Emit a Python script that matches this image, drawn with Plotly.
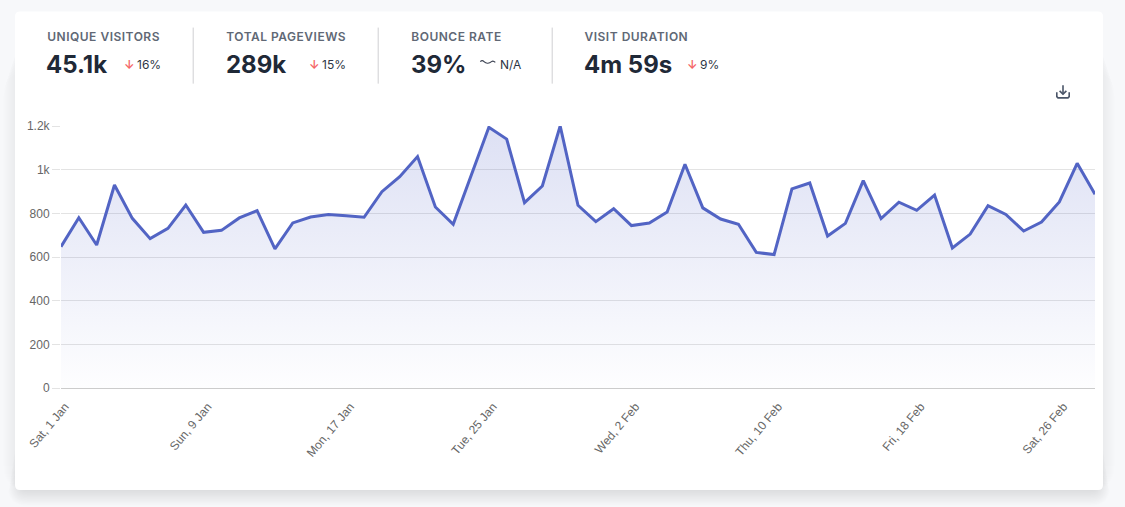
import pandas as pd
import plotly.graph_objects as go

visitors = [647, 780, 655, 930, 777, 684, 731, 838, 713, 722, 779, 812, 637, 756, 783,
            795, 789, 782, 899, 968, 1060, 829, 750, 972, 1194, 1140, 849, 925, 1200, 837,
            762, 821, 744, 756, 806, 1025, 825, 774, 750, 621, 611, 912, 939, 696, 754,
            950, 776, 851, 814, 884, 641, 705, 835, 795, 719, 760, 852, 1029, 887]
days = pd.date_range("2022-01-01", periods=len(visitors), freq="D")

tick_dates = ["2022-01-01", "2022-01-09", "2022-01-17", "2022-01-25",
              "2022-02-02", "2022-02-10", "2022-02-18", "2022-02-26"]
tick_labels = ["Sat, 1 Jan", "Sun, 9 Jan", "Mon, 17 Jan", "Tue, 25 Jan",
               "Wed, 2 Feb", "Thu, 10 Feb", "Fri, 18 Feb", "Sat, 26 Feb"]
y_ticks = [0, 200, 400, 600, 800, 1000, 1200]
y_labels = ["0", "200", "400", "600", "800", "1k", "1.2k"]

stat_names = ["UNIQUE VISITORS", "TOTAL PAGEVIEWS", "BOUNCE RATE", "VISIT DURATION"]
stat_values = ["45.1k", "289k", "39%", "4m 59s"]
stat_changes = ["16%", "15%", "N/A", "9%"]

W, H = 1125, 507
L, R, T, B = 61, 1095, 126.3, 388

INK = "#1f2937"
MUTED = "#606875"
RED = "#f56565"
GREY = "#666666"
FONT = "Inter"
TRACKING = 0.5


# pixel position on the page -> paper coordinates of the plot area
def px(x):
    return (x - L) / (R - L)


def py(y):
    return (B - y) / (B - T)


def round_rect(x0, y0, x1, y1, r):
    return (f"M{px(x0 + r)},{py(y0)} L{px(x1 - r)},{py(y0)} Q{px(x1)},{py(y0)} {px(x1)},{py(y0 + r)} "
            f"L{px(x1)},{py(y1 - r)} Q{px(x1)},{py(y1)} {px(x1 - r)},{py(y1)} "
            f"L{px(x0 + r)},{py(y1)} Q{px(x0)},{py(y1)} {px(x0)},{py(y1 - r)} "
            f"L{px(x0)},{py(y0 + r)} Q{px(x0)},{py(y0)} {px(x0 + r)},{py(y0)} Z")


def poly(points):
    return "M" + " L".join(f"{px(x)},{py(y)}" for x, y in points)


fig = go.Figure()
fig.add_trace(go.Scatter(
    x=days, y=visitors, mode="lines",
    line=dict(color="#5264c4", width=3, shape="linear"),
    fill="tozeroy",
    fillgradient=dict(type="vertical", colorscale=[
        [0, "rgba(101,116,205,0.01)"], [1, "rgba(101,116,205,0.22)"]]),
    cliponaxis=False, hoverinfo="skip", showlegend=False,
))

shapes = []
# soft card shadow: faint on the sides, heavier under the bottom edge
for grow in range(12, 0, -1):
    shapes.append(dict(type="path", xref="paper", yref="paper", layer="below",
                       path=round_rect(15 - grow, 36 + grow * 3, 1103 + grow, 490, 24),
                       fillcolor="rgba(30,40,60,0.003)", line_width=0))
for grow in range(13, 0, -1):
    shapes.append(dict(type="path", xref="paper", yref="paper", layer="below",
                       path=round_rect(21 - grow, 400 + grow * 6, 1097 + grow, 490 + grow * 1.2, 6 + grow),
                       fillcolor="rgba(30,40,60,0.009)", line_width=0))
shapes.append(dict(type="path", xref="paper", yref="paper", layer="below",
                   path=round_rect(15, 12, 1103, 490, 5), fillcolor="#ffffff", line_width=0))

for x in [193.2, 378.2, 552.2]:
    shapes.append(dict(type="line", xref="paper", yref="paper", layer="above",
                       x0=px(x), x1=px(x), y0=py(28), y1=py(84),
                       line=dict(color="#cfcfd2", width=1)))

# squiggle next to N/A
shapes.append(dict(type="path", xref="paper", yref="paper",
                   path=f"M{px(480.3)},{py(62)} Q{px(482.2)},{py(60.2)} {px(484)},{py(62)} "
                        f"T{px(487.8)},{py(63.6)} T{px(491.5)},{py(62)} T{px(495.3)},{py(62.8)}",
                   line=dict(color="#3b4252", width=1.2)))

# download icon
icon = "#4a5568"
shapes.append(dict(type="path", xref="paper", yref="paper",
                   path=poly([(1056.8, 92.5), (1056.8, 97), (1058, 98.2), (1068, 98.2), (1069.2, 97), (1069.2, 92.5)]),
                   line=dict(color=icon, width=1.6)))
shapes.append(dict(type="path", xref="paper", yref="paper",
                   path=poly([(1063, 85.5), (1063, 94.5)]), line=dict(color=icon, width=1.6)))
shapes.append(dict(type="path", xref="paper", yref="paper",
                   path=poly([(1059.6, 91.2), (1063, 94.5), (1066.4, 91.2)]), line=dict(color=icon, width=1.6)))

annotations = []


def label(x, y, text, size, color, weight=400, family=FONT):
    annotations.append(dict(xref="paper", yref="paper", x=px(x), y=py(y), text=text, showarrow=False,
                            xanchor="left", yanchor="middle", borderpad=0, borderwidth=0,
                            font=dict(family=family, size=size, color=color, weight=weight)))


name_x = [47, 226.3, 411.3, 584.7]
value_x = [46, 225.5, 411, 584]
arrow_x = [123.5, 309, None, 687]
change_x = [137.3, 322, 499.7, 700]
for i in range(4):
    # the letter spacing added below widens the text on both sides, so move it over by half
    label(name_x[i] + len(stat_names[i]) * TRACKING / 2, 36.5, stat_names[i], 12, MUTED, 600)
    label(value_x[i], 64.5, stat_values[i], 24, INK, 700)
    if arrow_x[i] is not None:
        label(arrow_x[i], 64.5, "↓", 12, RED, 600)
    label(change_x[i], 64.5, stat_changes[i], 12, "#2d3544")

fig.update_layout(
    width=W, height=H,
    margin=dict(l=L, r=W - R, t=T, b=H - B, pad=0),
    paper_bgcolor="#f7f8fa",
    plot_bgcolor="rgba(0,0,0,0)",
    shapes=shapes,
    annotations=annotations,
    showlegend=False,
    font=dict(family="Liberation Sans", size=12, color=GREY),
)
fig.update_xaxes(
    type="date", range=[days[0], days[-1]],
    tickmode="array", tickvals=tick_dates, ticktext=tick_labels, tickangle=-50,
    showgrid=False, zeroline=False, showline=True, linecolor="#cccccc", linewidth=1,
    ticks="", tickfont=dict(size=12, color=GREY), ticklabelstandoff=6, ticklabelshift=4,
)
fig.update_yaxes(
    range=[0, 1200], tickmode="array", tickvals=y_ticks, ticktext=y_labels,
    showgrid=True, gridcolor="#e3e3e3", gridwidth=1, zeroline=False, showline=False,
    ticks="outside", ticklen=8, tickcolor="#e3e3e3", tickwidth=1, tickfont=dict(size=12, color=GREY),
)

post = ("document.body.style.margin='0';document.body.style.overflow='hidden';"
        "document.querySelectorAll('.annotation-text').forEach(function(t){"
        "if(/^[A-Z ]{4,}$/.test(t.textContent)){t.style.letterSpacing='%spx';}});" % TRACKING)
fig.write_html("out.html", config=dict(displayModeBar=False), post_script=post)
